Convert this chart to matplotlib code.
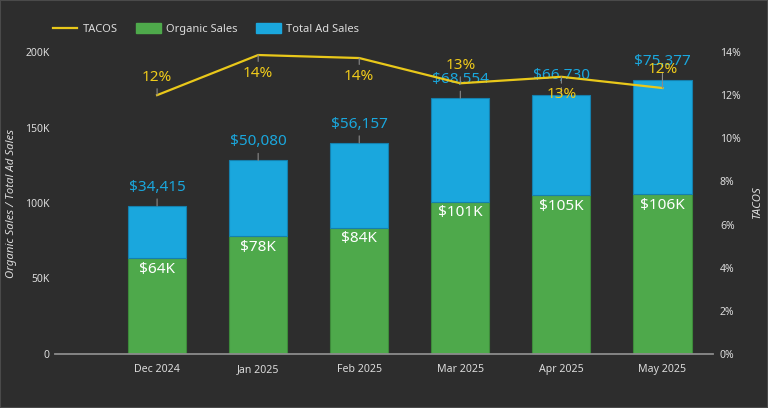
import matplotlib
matplotlib.use("Agg")
import matplotlib.pyplot as plt
from matplotlib.patches import Patch, Rectangle
from matplotlib.lines import Line2D
from matplotlib.ticker import FuncFormatter
import numpy as np

# ---- data ----
months = ["Dec 2024", "Jan 2025", "Feb 2025", "Mar 2025", "Apr 2025", "May 2025"]
organic_sales = [63600, 78100, 83600, 100800, 105000, 105800]
total_ad_sales = [34415, 50080, 56157, 68554, 66730, 75377]
tacos = [0.1200, 0.1386, 0.1372, 0.1255, 0.1285, 0.1233]
left_ticks = [0, 50000, 100000, 150000, 200000]
right_ticks = [0, 0.02, 0.04, 0.06, 0.08, 0.10, 0.12, 0.14]

# label placement style (above / below the line point)
tacos_label_side = [1, -1, -1, 1, -1, 1]

BG = "#2d2d2d"
GREEN = "#4ea94b"
BLUE = "#1aa7dd"
YELLOW = "#e9c81a"
TXT = "#dcdcdc"

plt.rcParams["font.family"] = ["Noto Sans", "DejaVu Sans"]

fig = plt.figure(figsize=(7.68, 4.08), dpi=100, facecolor=BG)
ax = fig.add_axes([55/768, 1-354/408, (713-55)/768, (354-52)/408])
ax.set_facecolor(BG)

x = np.arange(len(months))
w = 0.575
ax.bar(x, organic_sales, w, color=GREEN, edgecolor="#3d8a3a", linewidth=0.8, zorder=2)
ax.bar(x, total_ad_sales, w, bottom=organic_sales, color=BLUE, edgecolor="#1580ad",
       linewidth=0.8, zorder=2)

ax.set_xlim(-1.01, 5.5)
ax.set_ylim(0, 200000)
ax.set_yticks(left_ticks)
ax.yaxis.set_major_formatter(FuncFormatter(lambda v, p: "0" if v == 0 else f"{int(v/1000)}K"))
ax.set_xticks(x)
ax.set_xticklabels(months)
for s in ["top", "right", "left"]:
    ax.spines[s].set_visible(False)
ax.spines["bottom"].set_color("#8c8c8c")
ax.spines["bottom"].set_linewidth(1.3)
ax.tick_params(axis="y", length=0, pad=4, labelsize=7.5, labelcolor=TXT)
ax.tick_params(axis="x", length=0, pad=7, labelsize=7.6, labelcolor=TXT)

# organic labels
for xi, v in zip(x, organic_sales):
    ax.annotate(f"${v/1000:.0f}K", (xi, v), xytext=(0, -8), textcoords="offset points",
                ha="center", va="center", color="white", fontsize=11, zorder=5)

# ad labels above stack
for xi, o, a in zip(x, organic_sales, total_ad_sales):
    ax.annotate(f"${a:,.0f}", (xi, o + a), xytext=(0, 13.5), textcoords="offset points",
                ha="center", va="center", color=BLUE, fontsize=11, zorder=5,
                arrowprops=dict(arrowstyle="-", color="#8a8a8a", lw=0.8, shrinkA=1, shrinkB=0))

ax2 = ax.twinx()
ax2.set_zorder(ax.get_zorder() + 1)
ax2.patch.set_visible(False)
ax2.plot(x, tacos, color=YELLOW, lw=1.6, zorder=3)
ax2.set_ylim(0, 0.14)
ax2.set_yticks(right_ticks)
ax2.yaxis.set_major_formatter(FuncFormatter(lambda v, p: f"{v*100:.0f}%"))
for s in ["top", "right", "left", "bottom"]:
    ax2.spines[s].set_visible(False)
ax2.tick_params(axis="y", length=0, pad=5, labelsize=7.5, labelcolor=TXT)

for xi, t, side in zip(x, tacos, tacos_label_side):
    ax2.annotate(f"{t*100:.0f}%", (xi, t), xytext=(0, 13*side), textcoords="offset points",
                 ha="center", va="center", color="#f0cb1b", fontsize=11, zorder=6,
                 arrowprops=dict(arrowstyle="-", color="#8a8a8a", lw=0.8, shrinkA=1, shrinkB=0))

fig.text(12/768, 1-203/408, "Organic Sales / Total Ad Sales", rotation=90, style="italic",
         color=TXT, fontsize=8.2, ha="center", va="center")
fig.text(757/768, 1-202/408, "TACOS", rotation=90, style="italic",
         color=TXT, fontsize=8.2, ha="center", va="center")

handles = [Line2D([0], [0], color=YELLOW, lw=1.6),
           Patch(facecolor=GREEN, edgecolor=GREEN),
           Patch(facecolor=BLUE, edgecolor=BLUE)]
leg = fig.legend(handles, ["TACOS", "Organic Sales", "Total Ad Sales"], ncol=3,
                 loc="center left", bbox_to_anchor=(53/768, 1-29/408), frameon=False,
                 fontsize=8, labelcolor=TXT, handlelength=2.2, handleheight=1.0,
                 handletextpad=0.45, columnspacing=1.7, borderpad=0, borderaxespad=0)

fig.patches.append(Rectangle((0, 0), 1, 1, transform=fig.transFigure, fill=False,
                             edgecolor="#4a4a4a", lw=1.5))

fig.savefig("out.png", dpi=100, facecolor=BG)
